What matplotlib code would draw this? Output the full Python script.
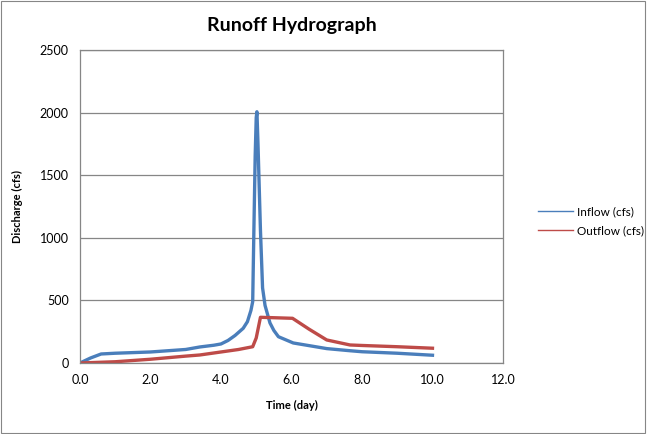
import matplotlib.pyplot as plt
from matplotlib.lines import Line2D
from matplotlib.patches import Rectangle

# Inflow hydrograph (time in days, discharge in cfs)
t_in = [0.0, 0.3, 0.6, 1.0, 2.0, 3.0, 3.4, 3.8, 4.0, 4.2, 4.4, 4.63, 4.75, 4.85, 4.9,
        4.93, 4.97, 5.0, 5.02, 5.05, 5.12, 5.18, 5.25, 5.39, 5.5, 5.63, 6.05, 7.0, 7.66,
        8.0, 9.0, 10.0]
q_in = [0, 40, 72, 78, 88, 108, 128, 142, 152, 180, 220, 277, 330, 420, 490,
        1000, 1650, 1960, 2007, 1750, 1060, 600, 460, 320, 260, 210, 160, 115, 98,
        90, 78, 62]

# Outflow hydrograph
t_out = [0.0, 1.0, 2.0, 3.0, 3.4, 4.0, 4.5, 4.9, 5.0, 5.12, 6.03, 6.5, 7.0, 7.66, 8.0, 9.0, 10.0]
q_out = [0, 10, 30, 55, 64, 88, 108, 130, 200, 365, 357, 270, 184, 144, 140, 130, 118]

blue = '#4a7ebb'
red = '#be4b48'
gray = '#868686'

plt.rcParams['font.family'] = ['Lato', 'DejaVu Sans']

fig = plt.figure(figsize=(6.47, 4.34), dpi=100)
fig.patches.append(Rectangle((0.002, 0.002), 0.995, 0.995, transform=fig.transFigure,
                             fill=False, edgecolor=gray, linewidth=0.8))
ax = fig.add_axes([0.1236, 0.1636, 0.6538, 0.7212])

ax.plot(t_in, q_in, color=blue, linewidth=2.4, solid_joinstyle='round')
ax.plot(t_out, q_out, color=red, linewidth=2.4, solid_joinstyle='round')

ax.set_xlim(0, 12)
ax.set_ylim(0, 2500)
ax.set_xticks(range(0, 13, 2))
ax.set_xticklabels([f'{v:.1f}' for v in range(0, 13, 2)])
ax.set_yticks(range(0, 2501, 500))
ax.tick_params(length=0, labelsize=9, pad=8)
ax.grid(axis='y', color=gray, linewidth=0.9)
ax.set_axisbelow(True)
for s in ax.spines.values():
    s.set_color(gray)
    s.set_linewidth(0.9)

ax.set_title('Runoff Hydrograph', fontsize=14, fontweight='bold', pad=14)
ax.set_xlabel('Time (day)', fontsize=8, fontweight='bold', labelpad=10)
ax.set_ylabel('Discharge (cfs)', fontsize=8, fontweight='bold', labelpad=12)

handles = [Line2D([], [], color=blue, linewidth=1),
           Line2D([], [], color=red, linewidth=1)]
fig.legend(handles, ['Inflow (cfs)', 'Outflow (cfs)'], loc='center left',
           bbox_to_anchor=(0.815, 0.49), frameon=False, fontsize=8.5,
           handlelength=3.0, handletextpad=0.3, labelspacing=0.7)

fig.savefig('out.png', dpi=100)
